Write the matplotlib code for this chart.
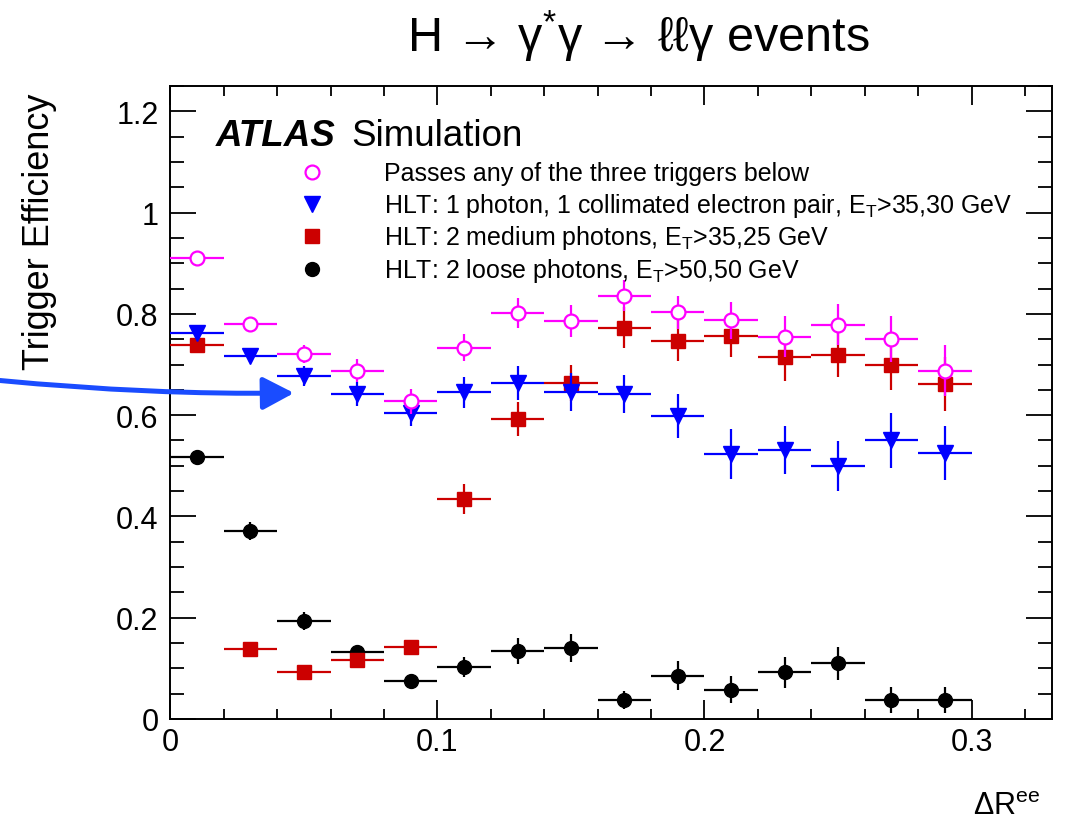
import matplotlib
matplotlib.use("Agg")
import matplotlib.pyplot as plt
from matplotlib.ticker import MultipleLocator, FuncFormatter
from matplotlib.patches import FancyArrowPatch
from matplotlib.path import Path

plt.rcParams['font.family'] = ['Liberation Sans', 'DejaVu Sans']
plt.rcParams['mathtext.fontset'] = 'custom'
plt.rcParams['mathtext.rm'] = 'Liberation Sans'
plt.rcParams['mathtext.it'] = 'Liberation Sans:italic'

# Delta R bins (centres, half width)
dr_centres = [0.01, 0.03, 0.05, 0.07, 0.09, 0.11, 0.13, 0.15,
              0.17, 0.19, 0.21, 0.23, 0.25, 0.27, 0.29]
bin_half = 0.01

eff_any = [0.910, 0.780, 0.721, 0.688, 0.627, 0.733, 0.802, 0.786,
           0.836, 0.803, 0.787, 0.755, 0.779, 0.750, 0.688]
err_any = [0.008, 0.010, 0.018, 0.022, 0.025, 0.027, 0.029, 0.031,
           0.030, 0.033, 0.037, 0.040, 0.041, 0.045, 0.050]

eff_collim = [0.762, 0.716, 0.678, 0.642, 0.605, 0.645, 0.663, 0.646,
              0.642, 0.598, 0.523, 0.531, 0.499, 0.550, 0.525]
err_collim = [0.008, 0.012, 0.020, 0.024, 0.027, 0.030, 0.034, 0.037,
              0.037, 0.043, 0.049, 0.048, 0.049, 0.054, 0.053]

eff_medium = [0.739, 0.138, 0.0935, 0.117, 0.143, 0.434, 0.592, 0.664,
              0.773, 0.747, 0.757, 0.714, 0.719, 0.699, 0.662]
err_medium = [0.008, 0.006, 0.006, 0.010, 0.011, 0.030, 0.034, 0.036,
              0.040, 0.040, 0.043, 0.047, 0.044, 0.050, 0.053]

eff_loose = [0.518, 0.371, 0.193, 0.133, 0.0757, 0.103, 0.134, 0.140,
             0.0375, 0.0856, 0.058, 0.092, 0.110, 0.0375, 0.0375]
err_loose = [0.006, 0.018, 0.018, 0.012, 0.006, 0.020, 0.026, 0.028,
             0.018, 0.028, 0.026, 0.031, 0.033, 0.025, 0.025]

labels = [
    "Passes any of the three triggers below",
    r"HLT: 1 photon, 1 collimated electron pair, E$_{\mathrm{T}}$>35,30 GeV",
    r"HLT: 2 medium photons, E$_{\mathrm{T}}$>35,25 GeV",
    r"HLT: 2 loose photons, E$_{\mathrm{T}}$>50,50 GeV",
]

W, H = 1075, 829


def px(x, y):
    return (x / W, 1 - y / H)


fig = plt.figure(figsize=(W / 100, H / 100), dpi=100)
ax = fig.add_axes([170.3 / W, (H - 720) / H, (1051.7 - 170.3) / W, (720 - 87) / H])

styles = [
    (eff_loose, err_loose, dict(fmt='o', color='black', ms=10, mfc='black', mec='black')),
    (eff_medium, err_medium, dict(fmt='s', color='#cc0000', ms=10, mfc='#cc0000', mec='#cc0000')),
    (eff_collim, err_collim, dict(fmt='v', color='#0000ff', ms=11, mfc='#0000ff', mec='#0000ff')),
    (eff_any, err_any, dict(fmt='o', color='#ff00ff', ms=10, mfc='white', mec='#ff00ff', mew=1.6)),
]
for z, (vals, errs, st) in enumerate(styles):
    ax.errorbar(dr_centres, vals, xerr=bin_half, yerr=errs, elinewidth=1.6,
                capsize=0, zorder=3 + z, **st)

ax.set_xlim(0, 0.33)
ax.set_ylim(0, 1.25)
ax.xaxis.set_major_locator(MultipleLocator(0.1))
ax.xaxis.set_minor_locator(MultipleLocator(0.02))
ax.yaxis.set_major_locator(MultipleLocator(0.2))
ax.yaxis.set_minor_locator(MultipleLocator(0.05))
ax.xaxis.set_major_formatter(FuncFormatter(lambda v, p: f"{v:g}"))
ax.yaxis.set_major_formatter(FuncFormatter(lambda v, p: f"{v:g}"))

for s in ax.spines.values():
    s.set_linewidth(1.4)
ax.tick_params(axis='x', which='major', direction='in', length=13.5, width=1.3,
               top=True, labelsize=22, pad=6)
ax.tick_params(axis='x', which='minor', direction='in', length=7, width=1.3, top=True)
ax.tick_params(axis='y', which='major', direction='in', length=19, width=1.3,
               right=True, labelsize=22, pad=8.5)
ax.tick_params(axis='y', which='minor', direction='in', length=10, width=1.3, right=True)

# ATLAS label
fig.text(*px(216, 146), "ATLAS", fontsize=26.5, fontweight='bold', fontstyle='italic',
         ha='left', va='baseline')
fig.text(*px(351, 146), "Simulation", fontsize=26.5, ha='left', va='baseline')

# legend rows
leg_rows = [172.5, 204.5, 236.7, 270.0]
leg_styles = [
    dict(marker='o', ms=10, mfc='white', mec='#ff00ff', mew=1.6),
    dict(marker='v', ms=11, mfc='#0000ff', mec='#0000ff'),
    dict(marker='s', ms=10, mfc='#cc0000', mec='#cc0000'),
    dict(marker='o', ms=10, mfc='black', mec='black'),
]
for yrow, lab, st in zip(leg_rows, labels, leg_styles):
    xm, ym = px(311.5, yrow)
    ax.plot([xm], [ym], transform=fig.transFigure, linestyle='none', clip_on=False, **st)
    fig.text(*px(384, yrow + 8), lab, fontsize=18, ha='left', va='baseline')

# axis labels and title
fig.text(*px(40, 232), "Trigger Efficiency", fontsize=26, rotation=90,
         ha='center', va='center')
fig.text(*px(1040, 815), r"$\Delta$R$^{\mathrm{ee}}$", fontsize=22, ha='right', va='baseline')
fig.text(*px(638, 52), r"H → γ$^{*}$γ → ℓℓγ events", fontsize=35, ha='center', va='baseline')

# pointer arrow
verts = [px(0, 381.5), px(150, 396), px(294, 394)]
arrow_path = Path(verts, [Path.MOVETO, Path.CURVE3, Path.CURVE3])
arrow = FancyArrowPatch(path=arrow_path, transform=fig.transFigure,
                        arrowstyle='-|>,head_length=0.95,head_width=0.5',
                        mutation_scale=20, color='#1a4cff', linewidth=3.6,
                        clip_on=False, zorder=10)
fig.patches.append(arrow)

fig.savefig("out.png", dpi=100)
